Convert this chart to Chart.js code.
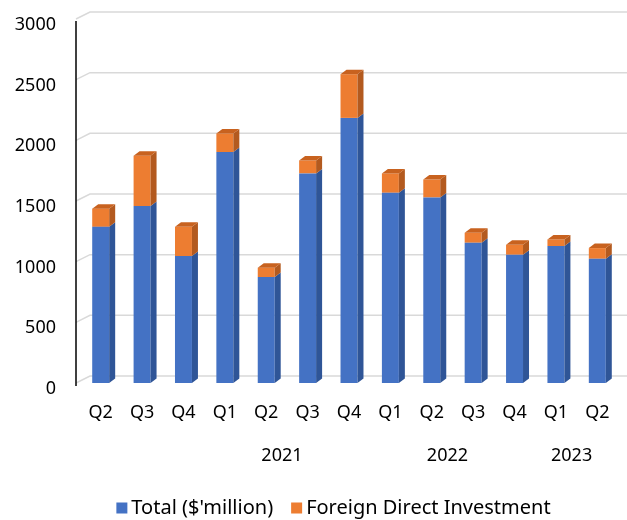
<!DOCTYPE html>
<html>
<head>
<meta charset="utf-8">
<script src="https://cdn.jsdelivr.net/npm/chart.js@4.4.1/dist/chart.umd.min.js"></script>
<style>
  html, body { margin: 0; padding: 0; background: #fff; }
  #wrap { width: 627px; height: 520px; }
</style>
</head>
<body>
<div id="wrap"><canvas id="chart"></canvas></div>
<script>
// quarters on the x axis, with the year each one belongs to ('' = no year label)
const quarters = ['Q2', 'Q3', 'Q4', 'Q1', 'Q2', 'Q3', 'Q4', 'Q1', 'Q2', 'Q3', 'Q4', 'Q1', 'Q2'];
const quarterYears = ['', '', '', '2021', '2021', '2021', '2021', '2022', '2022', '2022', '2022', '2023', '2023'];

// stacked values
const totalValues = [1287, 1458, 1046, 1903, 873, 1727, 2185, 1568, 1529, 1156, 1057, 1129, 1024];
const fdiValues = [150, 414, 241, 154, 77, 107, 360, 159, 148, 82, 82, 54, 88];

const yTicks = [0, 500, 1000, 1500, 2000, 2500, 3000];

const FONT = 'Noto Sans';
const DEPTH_X = 6, DEPTH_Y = -4.5;   // bar depth
const WALL_X = 14, WALL_Y = -7;      // back wall offset for gridlines

// gridlines on the back wall + the vertical axis line
const wallPlugin = {
  id: 'wall',
  beforeDatasetsDraw(chart) {
    const { ctx, chartArea, scales } = chart;
    const axisX = chartArea.left - 4;
    ctx.save();
    ctx.strokeStyle = '#d9d9d9';
    ctx.lineWidth = 1.5;
    yTicks.forEach(v => {
      const y = scales.y.getPixelForValue(v);
      ctx.beginPath();
      ctx.moveTo(axisX, y);
      ctx.lineTo(axisX + WALL_X, y + WALL_Y);
      ctx.lineTo(chart.width, y + WALL_Y);
      ctx.stroke();
    });
    ctx.strokeStyle = '#000';
    ctx.lineWidth = 1.5;
    ctx.beginPath();
    ctx.moveTo(axisX, scales.y.getPixelForValue(3000) + 2);
    ctx.lineTo(axisX, scales.y.getPixelForValue(0) + 3);
    ctx.stroke();
    ctx.restore();
  }
};

// side and top faces of the bars, year labels and legend
const bar3dPlugin = {
  id: 'bar3d',
  afterDatasetsDraw(chart) {
    const { ctx } = chart;
    const sides = ['#2f5597', '#b35a1f'];
    const nSets = chart.data.datasets.length;
    ctx.save();
    chart.data.datasets.forEach((ds, di) => {
      const meta = chart.getDatasetMeta(di);
      meta.data.forEach(bar => {
        const r = bar.x + bar.width / 2;
        const l = bar.x - bar.width / 2;
        const top = Math.min(bar.y, bar.base);
        const bot = Math.max(bar.y, bar.base);
        ctx.fillStyle = sides[di];
        ctx.beginPath();
        ctx.moveTo(r, top);
        ctx.lineTo(r + DEPTH_X, top + DEPTH_Y);
        ctx.lineTo(r + DEPTH_X, bot + DEPTH_Y);
        ctx.lineTo(r, bot);
        ctx.closePath();
        ctx.fill();
        if (di === nSets - 1) {
          ctx.fillStyle = '#c8621f';
          ctx.beginPath();
          ctx.moveTo(l, top);
          ctx.lineTo(l + DEPTH_X, top + DEPTH_Y);
          ctx.lineTo(r + DEPTH_X, top + DEPTH_Y);
          ctx.lineTo(r, top);
          ctx.closePath();
          ctx.fill();
        }
      });
    });

    // year labels centred under their quarters (Excel sits them a touch left)
    const x = chart.scales.x;
    ctx.fillStyle = '#000';
    ctx.font = '18px "' + FONT + '"';
    ctx.textAlign = 'center';
    ctx.textBaseline = 'middle';
    const seen = [...new Set(quarterYears.filter(y => y))];
    seen.forEach(year => {
      const idx = quarterYears.map((y, i) => y === year ? i : -1).filter(i => i >= 0);
      const cx = (x.getPixelForValue(idx[0]) + x.getPixelForValue(idx[idx.length - 1])) / 2;
      ctx.fillText(year, cx - 5, 456);
    });

    // legend
    ctx.font = '20px "' + FONT + '"';
    ctx.textAlign = 'left';
    const box = 11, gapText = 4, gapItem = 18, legY = 508;
    const items = chart.data.datasets.map(ds => ({ text: ds.label, color: ds.backgroundColor }));
    const widths = items.map(it => box + gapText + ctx.measureText(it.text).width);
    const total = widths.reduce((a, b) => a + b, 0) + gapItem * (items.length - 1);
    let lx = 333.5 - total / 2;
    items.forEach((it, i) => {
      ctx.fillStyle = it.color;
      ctx.fillRect(lx, legY - box / 2, box, box);
      ctx.fillStyle = '#000';
      ctx.fillText(it.text, lx + box + gapText, legY);
      lx += widths[i] + gapItem;
    });
    ctx.restore();
  }
};

const ctx = document.getElementById('chart').getContext('2d');
new Chart(ctx, {
  type: 'bar',
  data: {
    labels: quarters,
    datasets: [
      {
        label: "Total ($'million)",
        data: totalValues,
        backgroundColor: '#4472c4',
        barPercentage: 0.41,
        categoryPercentage: 1.0
      },
      {
        label: 'Foreign Direct Investment',
        data: fdiValues,
        backgroundColor: '#ed7d31',
        barPercentage: 0.41,
        categoryPercentage: 1.0
      }
    ]
  },
  options: {
    responsive: true,
    maintainAspectRatio: false,
    animation: false,
    layout: { padding: { top: 19, right: 9, left: 0, bottom: 0 } },
    plugins: {
      tooltip: { enabled: false },
      legend: { display: false }
    },
    scales: {
      x: {
        stacked: true,
        grid: { display: false, drawTicks: false },
        border: { display: false },
        ticks: { color: '#000', font: { family: FONT, size: 18 }, padding: 19, maxRotation: 0, autoSkip: false },
        afterFit(scale) { scale.height = 137; scale.paddingLeft = 0; scale.paddingRight = 0; }
      },
      y: {
        stacked: true,
        min: 0,
        max: 3000,
        afterBuildTicks(scale) { scale.ticks = yTicks.map(v => ({ value: v })); },
        grid: { display: false, drawTicks: false },
        border: { display: false },
        ticks: {
          color: '#000', font: { family: FONT, size: 18 }, padding: 24, labelOffset: 6,
          callback: v => String(v)
        },
        afterFit(scale) { scale.width = 80; scale.paddingTop = 0; scale.paddingBottom = 0; }
      }
    }
  },
  plugins: [wallPlugin, bar3dPlugin]
});
</script>
</body>
</html>
